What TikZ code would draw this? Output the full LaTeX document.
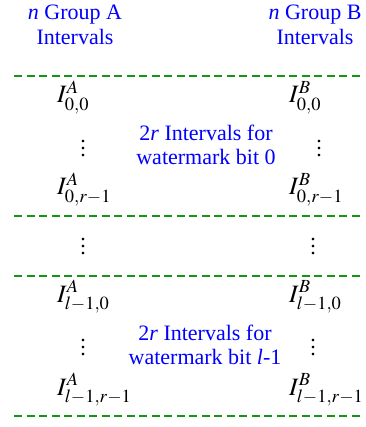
\documentclass[tikz,border=0pt]{standalone}
\usepackage{mathptmx}
\usepackage[no-math]{fontspec}
\setmainfont{Liberation Serif}
\newfontfamily\timesfont{Liberation Serif}
\usepackage{tikz}
\usetikzlibrary{calc}

\definecolor{sepgreen}{RGB}{20,150,20}
\newcommand{\colvdots}{\vbox{\baselineskip7pt\lineskiplimit0pt\kern7pt\hbox{.}\hbox{.}\hbox{.}}}

\begin{document}
\begin{tikzpicture}[x=1pt, y=-1pt,
    head/.style={text=blue, align=center, font=\timesfont\fontsize{22}{25}\selectfont},
    note/.style={text=blue, align=center, font=\timesfont\fontsize{22}{24}\selectfont},
    ival/.style={anchor=base west, inner sep=0pt, font=\fontsize{25}{28}\selectfont},
    dotsnode/.style={inner sep=0pt, font=\timesfont\fontsize{22}{24}\selectfont},
    sep/.style={sepgreen, line width=1.4pt, dash pattern=on 8pt off 4.5pt}]
  \useasboundingbox (0,0) rectangle (365,427);
  % Column headers
  \node[head] (headA) at (75,25) {\textit{n} Group A\\Intervals};
  \node[head] (headB) at (315,25) {\textit{n} Group B\\Intervals};
  % Separators
  \draw[sep] (14,76) -- (362,76);
  \draw[sep] (14,216) -- (362,216);
  \draw[sep] (14,276) -- (362,276);
  \draw[sep] (14,416) -- (362,416);
  % Intervals for watermark bit 0
  \node[ival] (a00) at (57,103) {$I_{0,0}^{A}$};
  \node[ival] (b00) at (289,103) {$I_{0,0}^{B}$};
  \node[dotsnode] (da0) at (83,145) {\colvdots};
  \node[dotsnode] (db0) at (319,145) {\colvdots};
  \node[note] (bit0) at (206,145) {2\textit{r} Intervals for\\watermark bit 0};
  \node[ival] (a0r) at (57,195) {$I_{0,r-1}^{A}$};
  \node[ival] (b0r) at (289,195) {$I_{0,r-1}^{B}$};
  % Intermediate bits
  \node[dotsnode] (dam) at (83,243) {\colvdots};
  \node[dotsnode] (dbm) at (313,243) {\colvdots};
  % Intervals for watermark bit l-1
  \node[ival] (al0) at (57,302) {$I_{l-1,0}^{A}$};
  \node[ival] (bl0) at (289,302) {$I_{l-1,0}^{B}$};
  \node[dotsnode] (dal) at (83,344) {\colvdots};
  \node[dotsnode] (dbl) at (313,344) {\colvdots};
  \node[note] (bitl) at (205,345) {2\textit{r} Intervals for\\watermark bit \textit{l}-1};
  \node[ival] (alr) at (57,395) {$I_{l-1,r-1}^{A}$};
  \node[ival] (blr) at (289,395) {$I_{l-1,r-1}^{B}$};
\end{tikzpicture}
\end{document}
